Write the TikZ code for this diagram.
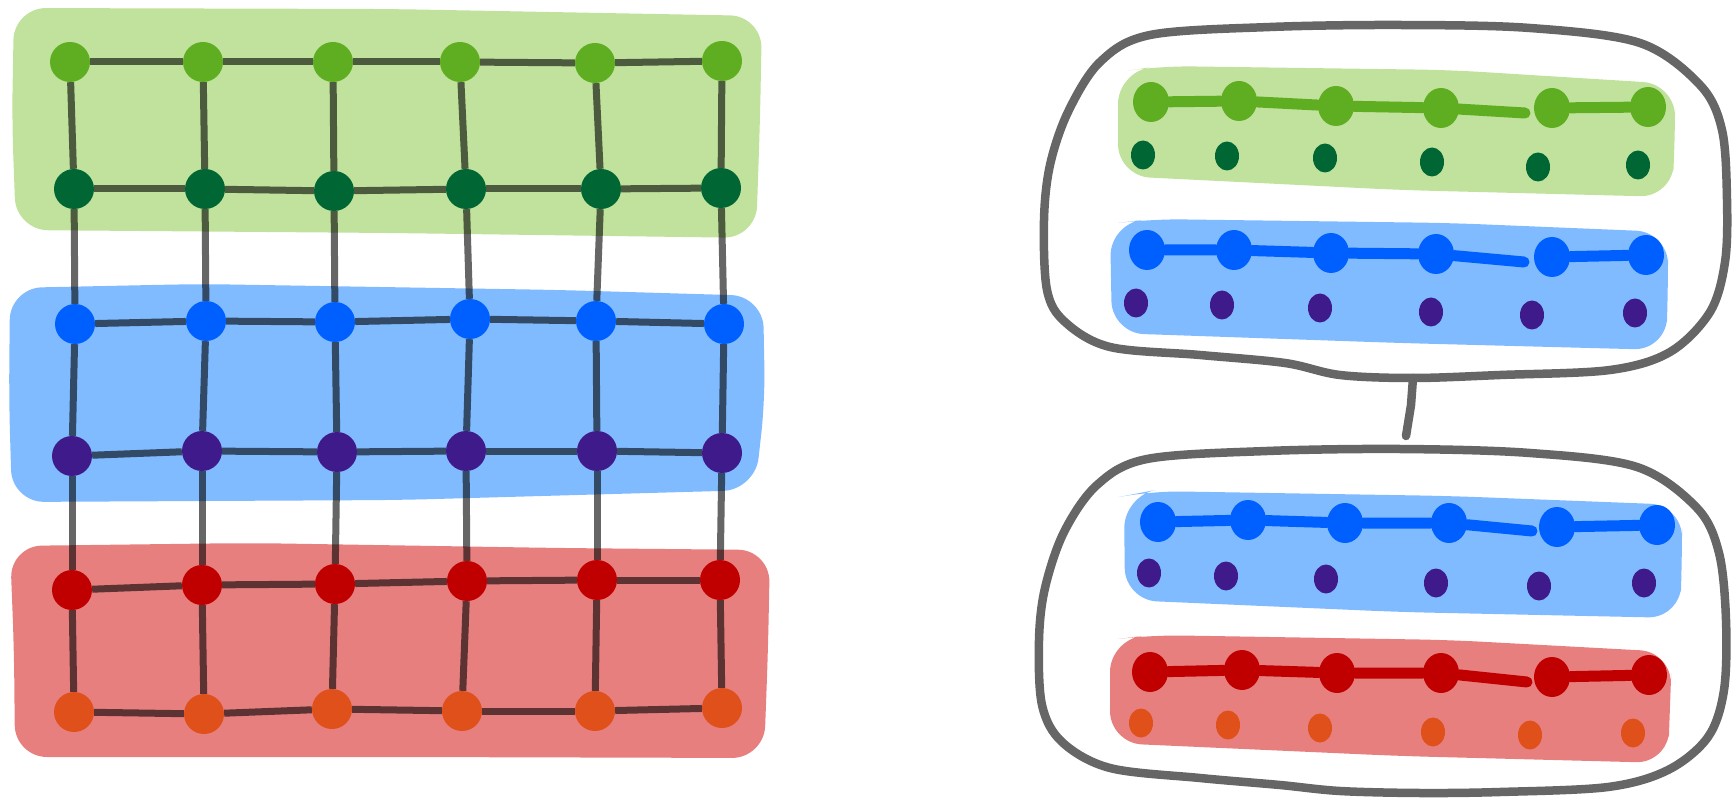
\documentclass[tikz,border=0pt]{standalone}
\usetikzlibrary{shapes.geometric}
\definecolor{gband}{HTML}{C0E29D}
\definecolor{bband}{HTML}{80BBFF}
\definecolor{rband}{HTML}{E77F7F}
\definecolor{cgreen}{HTML}{5FAE21}
\definecolor{cdkgreen}{HTML}{006633}
\definecolor{cblue}{HTML}{005FFF}
\definecolor{cpurple}{HTML}{3F1A8A}
\definecolor{cred}{HTML}{C00000}
\definecolor{corange}{HTML}{E0501A}
\definecolor{outline}{HTML}{666666}
\tikzset{
  lnode/.style={circle, inner sep=0pt, minimum size=40pt},
  rbig/.style={ellipse, inner sep=0pt, minimum width=36pt, minimum height=40pt},
  rdot/.style={ellipse, inner sep=0pt, minimum width=24pt, minimum height=29pt},
  gridline/.style={line width=7pt, black, opacity=0.6},
  rowline/.style={line width=11pt, line cap=round},
  boxline/.style={line width=8.5pt, outline, line join=round},
  bandshape/.style={rounded corners=32pt}
}
\begin{document}
\begin{tikzpicture}[x=1pt,y=-1pt]
\useasboundingbox (0,0) rectangle (1732,799);
% ---------- left: bands ----------
\fill[gband, bandshape] (14,8) -- (390,9) -- (762,16) -- (760,120) -- (756,238) -- (390,233) -- (16,230) -- (12,120) -- cycle;
\fill[bband, bandshape] (10,288) -- (200,284) -- (560,290) -- (763,296) -- (765,400) -- (755,490) -- (400,500) -- (12,502) -- (9,400) -- cycle;
\fill[rband, bandshape] (10,546) -- (250,543) -- (560,548) -- (770,550) -- (768,650) -- (764,758) -- (400,757) -- (15,757) -- (14,650) -- cycle;
% ---------- left: nodes ----------
\foreach \x/\y [count=\i] in {70/62,203/62,333/62,460/62,595/63,722/61}
  \node[lnode, fill=cgreen] (La\i) at (\x,\y) {};
\foreach \x/\y [count=\i] in {74/189,205/189,334/191,466/189,601/189,721/188}
  \node[lnode, fill=cdkgreen] (Lb\i) at (\x,\y) {};
\foreach \x/\y [count=\i] in {75/324,206/321,335/322,470/319,596/321,724/324}
  \node[lnode, fill=cblue] (Lc\i) at (\x,\y) {};
\foreach \x/\y [count=\i] in {72/456,202/451,337/452,466/451,597/451,722/453}
  \node[lnode, fill=cpurple] (Ld\i) at (\x,\y) {};
\foreach \x/\y [count=\i] in {72/590,202/585,335/584,467/581,597/580,720/580}
  \node[lnode, fill=cred] (Le\i) at (\x,\y) {};
\foreach \x/\y [count=\i] in {74/712,204/714,332/709,462/711,595/711,722/708}
  \node[lnode, fill=corange] (Lf\i) at (\x,\y) {};
% ---------- left: grid lines ----------
\foreach \r in {a,b,c,d,e,f}
  \foreach \i/\j in {1/2,2/3,3/4,4/5,5/6}
    \draw[gridline] (L\r\i) -- (L\r\j);
\foreach \c in {1,...,6}
  \foreach \r/\s in {a/b,b/c,c/d,d/e,e/f}
    \draw[gridline] (L\r\c) -- (L\s\c);
% ---------- right: outer boxes ----------
\draw[boxline] plot[smooth cycle, tension=0.55] coordinates {
  (1100,62) (1150,35) (1270,27) (1400,25) (1530,28) (1640,43) (1700,85) (1722,130)
  (1727,200) (1725,262) (1710,312) (1670,352) (1610,370) (1500,375) (1413,378)
  (1340,375) (1285,363) (1200,355) (1110,347) (1065,322) (1047,290) (1044,220)
  (1050,165) (1068,112)};
\draw[boxline] plot[smooth cycle, tension=0.55] coordinates {
  (1097,485) (1147,459) (1267,451) (1400,449) (1530,453) (1637,467) (1697,508) (1719,553)
  (1726,620) (1724,690) (1708,737) (1668,770) (1608,787) (1500,792) (1420,793)
  (1340,791) (1280,785) (1200,778) (1110,768) (1062,742) (1042,705) (1039,640)
  (1045,588) (1064,532)};
\coordinate (ctop) at (1413,378);
\coordinate (cbot) at (1406,436);
\draw[boxline, line cap=round] (ctop) -- (1411,405) -- (cbot);
% ---------- right: bands ----------
\fill[gband, bandshape] (1118,72) -- (1160,66) -- (1450,70) -- (1675,84) -- (1675,140) -- (1672,197) -- (1400,190) -- (1118,176) -- cycle;
\fill[bband, bandshape] (1110,224) -- (1150,219) -- (1450,223) -- (1668,232) -- (1668,290) -- (1666,350) -- (1400,343) -- (1112,333) -- cycle;
\fill[bband, bandshape] (1124,496) -- (1150,491) -- (1450,496) -- (1682,505) -- (1682,560) -- (1680,618) -- (1400,612) -- (1125,600) -- cycle;
\fill[rband, bandshape] (1110,640) -- (1150,635) -- (1450,640) -- (1672,652) -- (1670,705) -- (1668,763) -- (1400,756) -- (1110,743) -- cycle;
% ---------- right: nodes ----------
\foreach \x/\y [count=\i] in {1151/102,1239/101,1336/106,1441/108,1552/108,1648/107}
  \node[rbig, fill=cgreen] (TG\i) at (\x,\y) {};
\foreach \x/\y [count=\i] in {1143/155,1227/156,1325/158,1432/162,1538/167,1638/165}
  \node[rdot, fill=cdkgreen] (TD\i) at (\x,\y) {};
\foreach \x/\y [count=\i] in {1147/250,1234/250,1331/253,1436/254,1552/257,1646/255}
  \node[rbig, fill=cblue] (TB\i) at (\x,\y) {};
\foreach \x/\y [count=\i] in {1136/303,1222/305,1320/308,1431/312,1532/315,1635/313}
  \node[rdot, fill=cpurple] (TP\i) at (\x,\y) {};
\foreach \x/\y [count=\i] in {1158/522,1248/520,1345/523,1449/523,1557/527,1657/525}
  \node[rbig, fill=cblue] (BB\i) at (\x,\y) {};
\foreach \x/\y [count=\i] in {1149/573,1226/576,1326/579,1436/583,1539/586,1644/583}
  \node[rdot, fill=cpurple] (BP\i) at (\x,\y) {};
\foreach \x/\y [count=\i] in {1150/672,1242/670,1337/673,1441/673,1552/677,1649/675}
  \node[rbig, fill=cred] (BR\i) at (\x,\y) {};
\foreach \x/\y [count=\i] in {1141/723,1228/725,1320/728,1433/732,1530/735,1633/733}
  \node[rdot, fill=corange] (BO\i) at (\x,\y) {};
% ---------- right: row lines ----------
\coordinate (TGe) at (1525,113);
\coordinate (TBe) at (1524,262);
\coordinate (BBe) at (1532,531);
\coordinate (BRe) at (1527,682);
\draw[rowline, cgreen] (TG1) -- (TG2) -- (TG3) -- (TG4) -- (TGe);
\draw[rowline, cgreen] (TG5) -- (TG6);
\draw[rowline, cblue] (TB1) -- (TB2) -- (TB3) -- (TB4) -- (TBe);
\draw[rowline, cblue] (TB5) -- (TB6);
\draw[rowline, cblue] (BB1) -- (BB2) -- (BB3) -- (BB4) -- (BBe);
\draw[rowline, cblue] (BB5) -- (BB6);
\draw[rowline, cred] (BR1) -- (BR2) -- (BR3) -- (BR4) -- (BRe);
\draw[rowline, cred] (BR5) -- (BR6);
\end{tikzpicture}
\end{document}
